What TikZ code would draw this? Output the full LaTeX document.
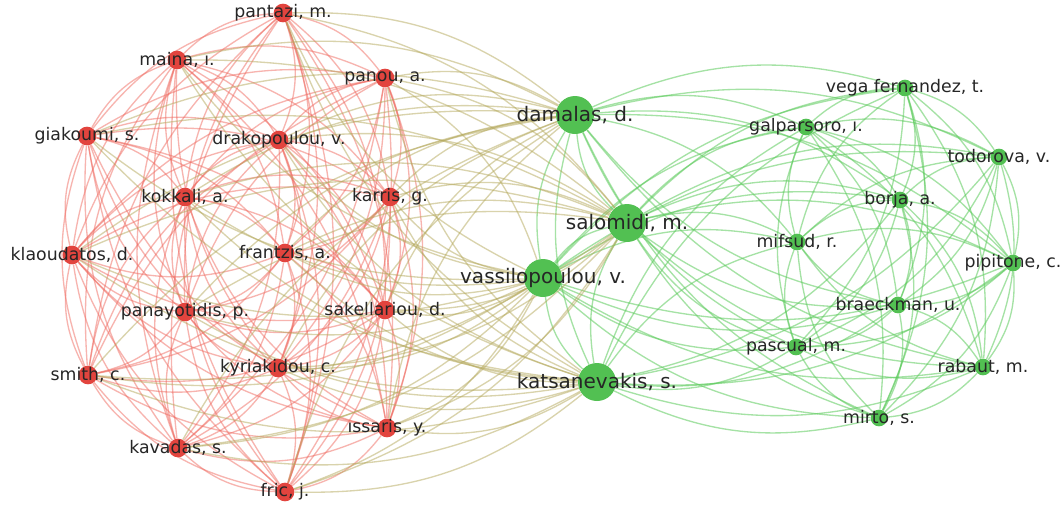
\documentclass[tikz,border=0pt]{standalone}
\usepackage{fontspec}
\setmainfont{DejaVu Sans}
\usepackage{xcolor}
\usetikzlibrary{calc,backgrounds}

\definecolor{authred}{HTML}{E2443E}
\definecolor{authgreen}{HTML}{52C052}
\definecolor{linkred}{HTML}{F06A60}
\definecolor{linkgreen}{HTML}{5CCB5C}
\definecolor{linkmix}{HTML}{B4A85A}
\definecolor{labelgray}{HTML}{262626}

\def\redlist{pantazi,maina,panou,giakoumi,drakopoulou,kokkali,karris,klaoudatos,frantzis,panayotidis,sakellariou,smith,kyriakidou,kavadas,issaris,fric}
\def\greenlist{damalas,salomidi,vassilopoulou,katsanevakis,vega,galparsoro,todorova,borja,mifsud,pipitone,braeckman,pascual,rabaut,mirto}
\def\biglist{damalas,salomidi,vassilopoulou,katsanevakis}

\begin{document}
\begin{tikzpicture}[x=0.75pt,y=-0.75pt,
redauthor/.style={circle,fill=authred,minimum size=14pt,inner sep=0pt},
greenauthor/.style={circle,fill=authgreen,minimum size=12.5pt,inner sep=0pt},
bigauthor/.style={circle,fill=authgreen,minimum size=28.5pt,inner sep=0pt},
authorlabel/.style={text=labelgray,inner sep=0pt,font=\fontsize{13}{13}\selectfont},
biglabel/.style={text=labelgray,inner sep=0pt,font=\fontsize{15}{15}\selectfont},
redlink/.style={draw=linkred,line width=1pt,opacity=0.5},
greenlink/.style={draw=linkgreen,line width=1pt,opacity=0.55},
mixlink/.style={draw=linkmix,line width=1pt,opacity=0.5}]
\useasboundingbox (0,0) rectangle (1063,504);
\coordinate (redmid) at (240,250);
\coordinate (greenmid) at (810,250);
\coordinate (allmid) at (520,250);
% red cluster
\node[redauthor,label={[authorlabel]center:{pantazi, m.}}] (pantazi) at (283,13) {};
\node[redauthor,label={[authorlabel]center:{maina, ı.}}] (maina) at (177,60) {};
\node[redauthor,label={[authorlabel]center:{panou, a.}}] (panou) at (385,78) {};
\node[redauthor,label={[authorlabel]center:{giakoumi, s.}}] (giakoumi) at (87,136) {};
\node[redauthor,label={[authorlabel]center:{drakopoulou, v.}}] (drakopoulou) at (279,140) {};
\node[redauthor,label={[authorlabel]center:{kokkali, a.}}] (kokkali) at (185,197) {};
\node[redauthor,label={[authorlabel]center:{karris, g.}}] (karris) at (390,197) {};
\node[redauthor,label={[authorlabel]center:{klaoudatos, d.}}] (klaoudatos) at (72,255) {};
\node[redauthor,label={[authorlabel]center:{frantzis, a.}}] (frantzis) at (285,253) {};
\node[redauthor,label={[authorlabel]center:{panayotidis, p.}}] (panayotidis) at (185,312) {};
\node[redauthor,label={[authorlabel]center:{sakellariou, d.}}] (sakellariou) at (385,310) {};
\node[redauthor,label={[authorlabel]center:{smith, c.}}] (smith) at (88,375) {};
\node[redauthor,label={[authorlabel]center:{kyriakidou, c.}}] (kyriakidou) at (278,368) {};
\node[redauthor,label={[authorlabel]center:{kavadas, s.}}] (kavadas) at (178,448) {};
\node[redauthor,label={[authorlabel]center:{ıssaris, y.}}] (issaris) at (387,428) {};
\node[redauthor,label={[authorlabel]center:{fric, j.}}] (fric) at (285,492) {};
% green cluster
\node[bigauthor,label={[biglabel]center:{damalas, d.}}] (damalas) at (575,115) {};
\node[bigauthor,label={[biglabel]center:{salomidi, m.}}] (salomidi) at (627,223) {};
\node[bigauthor,label={[biglabel]center:{vassilopoulou, v.}}] (vassilopoulou) at (543,278) {};
\node[bigauthor,label={[biglabel]center:{katsanevakis, s.}}] (katsanevakis) at (597,382) {};
\node[greenauthor,label={[authorlabel]center:{vega fernandez, t.}}] (vega) at (905,88) {};
\node[greenauthor,label={[authorlabel]center:{galparsoro, ı.}}] (galparsoro) at (806,127) {};
\node[greenauthor,label={[authorlabel]center:{todorova, v.}}] (todorova) at (999,157) {};
\node[greenauthor,label={[authorlabel]center:{borja, a.}}] (borja) at (900,200) {};
\node[greenauthor,label={[authorlabel]center:{mifsud, r.}}] (mifsud) at (797,242) {};
\node[greenauthor,label={[authorlabel]center:{pipitone, c.}}] (pipitone) at (1013,263) {};
\node[greenauthor,label={[authorlabel]center:{braeckman, u.}}] (braeckman) at (898,305) {};
\node[greenauthor,label={[authorlabel]center:{pascual, m.}}] (pascual) at (796,347) {};
\node[greenauthor,label={[authorlabel]center:{rabaut, m.}}] (rabaut) at (983,367) {};
\node[greenauthor,label={[authorlabel]center:{mirto, s.}}] (mirto) at (879,418) {};
% links, bent away from the middle of their cluster
\begin{scope}[on background layer]
\fill[white] (0,0) rectangle (1063,504);
\foreach \a [count=\i] in \redlist {
  \foreach \b [count=\j] in \redlist {
    \ifnum\j>\i
      \draw[redlink] let \p1=(\a.center), \p2=(\b.center), \p3=(redmid),
        \n1={-20*sign(((\x2-\x1)/100)*((\y3-\y1)/100)-((\y2-\y1)/100)*((\x3-\x1)/100))}
        in (\a) to[bend left=\n1] (\b);
    \fi
  }
}
\foreach \a [count=\i] in \greenlist {
  \foreach \b [count=\j] in \greenlist {
    \ifnum\j>\i
      \draw[greenlink] let \p1=(\a.center), \p2=(\b.center), \p3=(greenmid),
        \n1={-20*sign(((\x2-\x1)/100)*((\y3-\y1)/100)-((\y2-\y1)/100)*((\x3-\x1)/100))}
        in (\a) to[bend left=\n1] (\b);
    \fi
  }
}
\foreach \a in \redlist {
  \foreach \b in \biglist {
    \draw[mixlink] let \p1=(\a.center), \p2=(\b.center), \p3=(allmid),
      \n1={-20*sign(((\x2-\x1)/100)*((\y3-\y1)/100)-((\y2-\y1)/100)*((\x3-\x1)/100))}
      in (\a) to[bend left=\n1] (\b);
  }
}
\end{scope}
\end{tikzpicture}
\end{document}
